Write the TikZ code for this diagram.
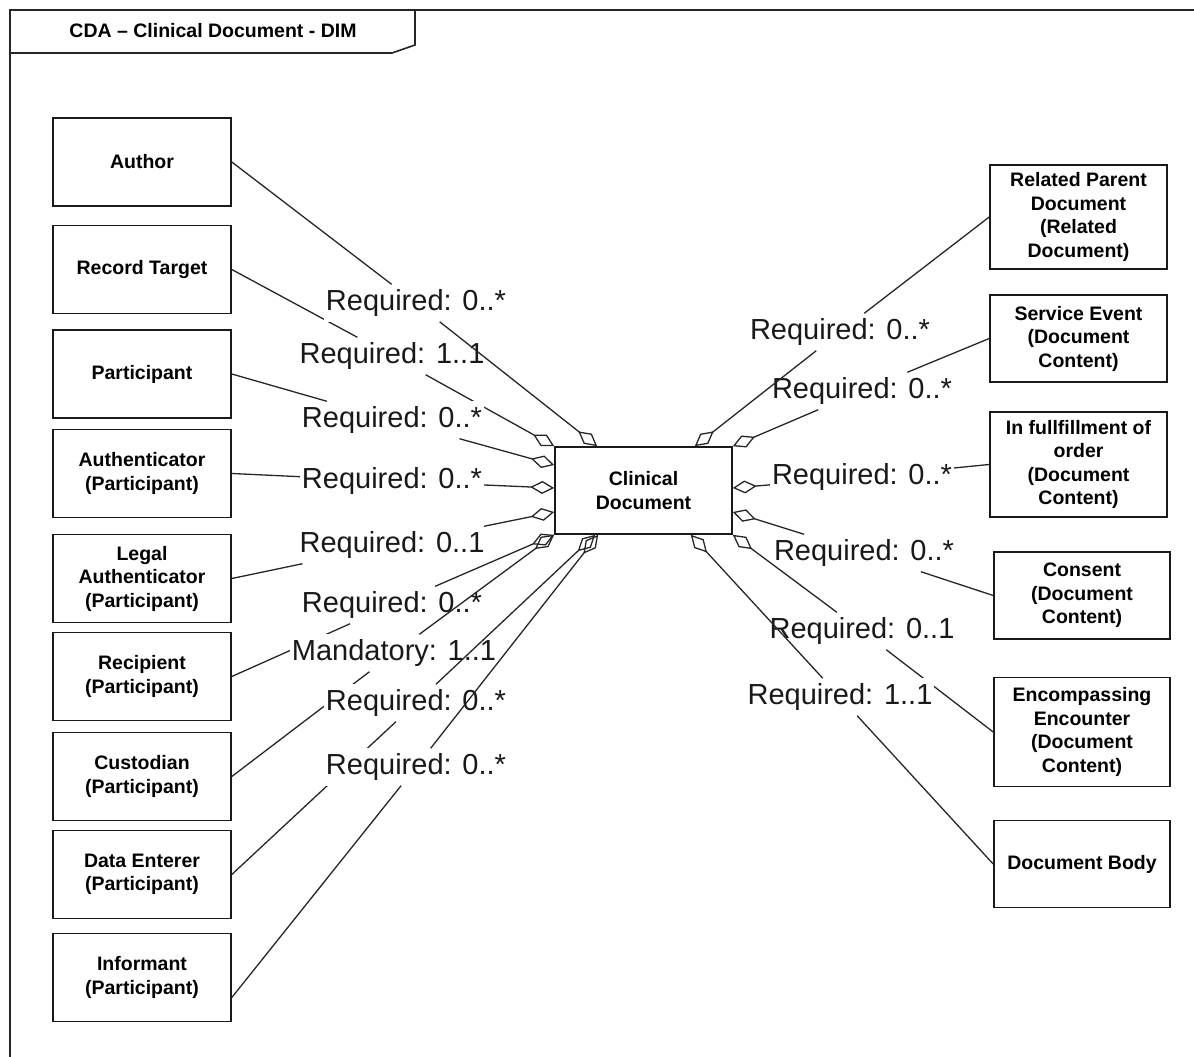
\documentclass[tikz,border=0pt]{standalone}
\usepackage{fontspec}
\setmainfont{Liberation Sans}
\usetikzlibrary{arrows.meta}
\begin{document}
\begin{tikzpicture}[x=1pt,y=-1pt,
  classbox/.style={draw=black!90, line width=1.6pt, minimum width=178pt, minimum height=88pt,
    align=center, inner sep=2pt, font=\bfseries\fontsize{19.5}{23.5}\selectfont},
  mult/.style={fill=white, inner xsep=2pt, inner ysep=5pt, text=black!90,
    font=\fontsize{29}{32}\selectfont},
  assoc/.style={line width=1.3pt, draw=black!85,
    -{Diamond[open,length=24pt,width=13pt]}},
  frameline/.style={line width=1.6pt, draw=black!85}]
\useasboundingbox (0,0) rectangle (1194,1057);

% package frame with its name tab
\draw[frameline] (1194,10) -- (10,10) -- (10,1057);
\draw[frameline] (10,53) -- (392,53) -- (415,45) -- (415,10);
\node[font=\bfseries\fontsize{19.5}{23}\selectfont] (title) at (213,31) {CDA – Clinical Document - DIM};

% central class
\node[classbox, minimum width=177pt, minimum height=87pt] (cd) at (643.5,490.5) {Clinical\\Document};

% participating classes, left column
\node[classbox] (au)  at (142,162)   {Author};
\node[classbox] (rt)  at (142,269.5) {Record Target};
\node[classbox] (pa)  at (142,374)   {Participant};
\node[classbox] (aut) at (142,473.5) {Authenticator\\(Participant)};
\node[classbox] (leg) at (142,578.5) {Legal\\Authenticator\\(Participant)};
\node[classbox] (rec) at (142,676.5) {Recipient\\(Participant)};
\node[classbox] (cus) at (142,776.5) {Custodian\\(Participant)};
\node[classbox] (de)  at (142,874.5) {Data Enterer\\(Participant)};
\node[classbox] (inf) at (142,977.5) {Informant\\(Participant)};

% content classes, right column
\node[classbox, minimum width=177pt, minimum height=104pt] (rp)  at (1078.5,217)   {Related Parent\\Document\\(Related\\Document)};
\node[classbox, minimum width=177pt, minimum height=87pt]  (se)  at (1078.5,338.5) {Service Event\\(Document\\Content)};
\node[classbox, minimum width=177pt, minimum height=105pt] (ff)  at (1078.5,464.5) {In fullfillment of\\order\\(Document\\Content)};
\node[classbox, minimum width=176pt, minimum height=87pt]  (con) at (1082,595.5)   {Consent\\(Document\\Content)};
\node[classbox, minimum width=176pt, minimum height=109pt] (enc) at (1082,732)     {Encompassing\\Encounter\\(Document\\Content)};
\node[classbox, minimum width=176pt, minimum height=87pt]  (db)  at (1082,864)     {Document Body};

% aggregation ends on the central class
\coordinate (tAu)  at ([xshift=43pt]cd.north west);
\coordinate (tRT)  at (cd.north west);
\coordinate (tPa)  at ([yshift=25.5pt]cd.west);
\coordinate (tAut) at ([yshift=2.5pt]cd.west);
\coordinate (tLeg) at ([yshift=-21.5pt]cd.west);
\coordinate (tRec) at (cd.south west);
\coordinate (tCus) at (cd.south west);
\coordinate (tDE)  at ([xshift=41pt]cd.south west);
\coordinate (tInf) at ([xshift=44pt]cd.south west);
\coordinate (tRP)  at ([xshift=-38pt]cd.north east);
\coordinate (tSE)  at (cd.north east);
\coordinate (tFF)  at ([yshift=2.5pt]cd.east);
\coordinate (tCon) at ([yshift=-21.5pt]cd.east);
\coordinate (tEnc) at (cd.south east);
\coordinate (tDB)  at ([xshift=-42pt]cd.south east);
\coordinate (infout) at ([yshift=-20pt]inf.east);

% left associations
\node[mult] (mRT) at (392,356) {Required: 1..1};
\draw[assoc] (rt.east) -- (mRT) -- (tRT);
\node[mult] (mAu) at (416,303) {Required: 0..*};
\draw[assoc] (au.east) -- (mAu) -- (tAu);
\node[mult] (mPa) at (392,420) {Required: 0..*};
\draw[assoc] (pa.east) -- (mPa) -- (tPa);
\node[mult] (mAut) at (392,481) {Required: 0..*};
\draw[assoc] (aut.east) -- (mAut) -- (tAut);
\node[mult] (mLeg) at (392,545) {Required: 0..1};
\draw[assoc] (leg.east) -- (mLeg) -- (tLeg);
\node[mult] (mRec) at (392,605) {Required: 0..*};
\draw[assoc] (rec.east) -- (mRec) -- (tRec);
\node[mult] (mCus) at (394,653) {Mandatory: 1..1};
\draw[assoc] (cus.east) -- (mCus) -- (tCus);
\node[mult] (mDE) at (416,703) {Required: 0..*};
\draw[assoc] (de.east) -- (mDE) -- (tDE);
\node[mult] (mInf) at (416,767) {Required: 0..*};
\draw[assoc] (infout) -- (mInf) -- (tInf);

% right associations
\node[mult] (mSE) at (862,391) {Required: 0..*};
\draw[assoc] (se.west) -- (mSE) -- (tSE);
\node[mult] (mRP) at (840,332) {Required: 0..*};
\draw[assoc] (rp.west) -- (mRP) -- (tRP);
\node[mult] (mFF) at (862,477) {Required: 0..*};
\draw[assoc] (ff.west) -- (mFF) -- (tFF);
\node[mult] (mCon) at (864,553) {Required: 0..*};
\draw[assoc] (con.west) -- (mCon) -- (tCon);
\node[mult] (mEnc) at (862,631) {Required: 0..1};
\draw[assoc] (enc.west) -- (mEnc) -- (tEnc);
\node[mult] (mDB) at (840,697) {Required: 1..1};
\draw[assoc] (db.west) -- (mDB) -- (tDB);
\end{tikzpicture}
\end{document}
